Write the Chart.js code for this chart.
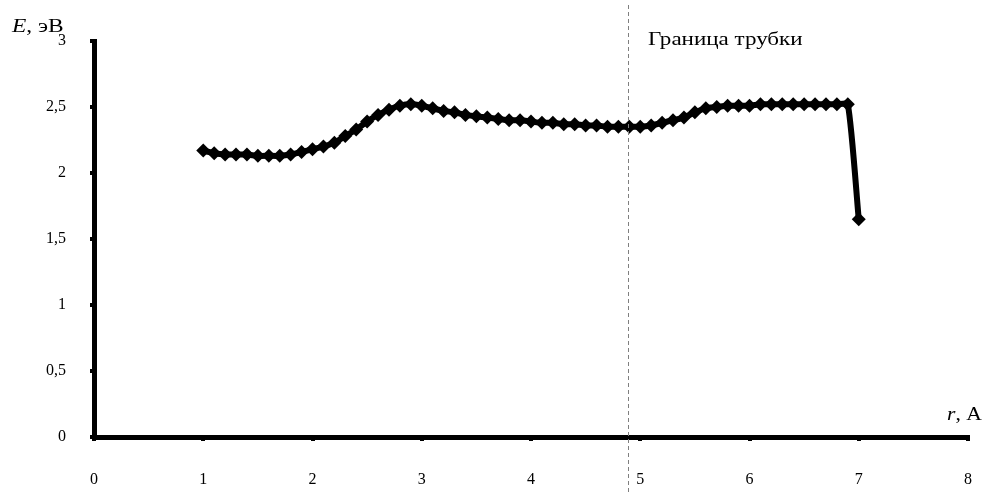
<!DOCTYPE html>
<html><head><meta charset="utf-8">
<script src="https://cdn.jsdelivr.net/npm/chart.js@4/dist/chart.umd.min.js"></script>
<style>html,body{margin:0;padding:0;background:#fff}#wrap{width:983px;height:493px}</style>
</head><body><div id="wrap"><canvas id="c" width="983" height="493"></canvas></div>
<script>
const rValues = [1.0,1.1,1.2,1.3,1.4,1.5,1.6,1.7,1.8,1.9,2.0,2.1,2.2,2.3,2.4,2.5,2.6,2.7,2.8,2.9,3.0,3.1,3.2,3.3,3.4,3.5,3.6,3.7,3.8,3.9,4.0,4.1,4.2,4.3,4.4,4.5,4.6,4.7,4.8,4.9,5.0,5.1,5.2,5.3,5.4,5.5,5.6,5.7,5.8,5.9,6.0,6.1,6.2,6.3,6.4,6.5,6.6,6.7,6.8,6.9,7.0];
const eValues = [2.17,2.15,2.14,2.14,2.14,2.13,2.13,2.13,2.14,2.16,2.18,2.20,2.23,2.28,2.33,2.39,2.44,2.48,2.51,2.52,2.51,2.49,2.47,2.46,2.44,2.43,2.42,2.41,2.40,2.40,2.39,2.38,2.38,2.37,2.37,2.36,2.36,2.35,2.35,2.35,2.35,2.36,2.38,2.40,2.42,2.46,2.49,2.50,2.51,2.51,2.51,2.52,2.52,2.52,2.52,2.52,2.52,2.52,2.52,2.52,1.65];
const xTicks = [0,1,2,3,4,5,6,7,8];
const yTicks = [0,0.5,1,1.5,2,2.5,3];
const boundaryR = 4.89;
const boundaryLabel = 'Граница трубки';
const yTitle = ['E', ', эВ'];
const xTitle = ['r', ', A'];

const FONT = '"Liberation Serif", "Times New Roman", serif';

function stretchedText(ctx, parts, x, y, size, sx) {
  ctx.save();
  ctx.translate(x, y);
  ctx.scale(sx, 1);
  let cx = 0;
  parts.forEach(p => {
    ctx.font = (p.italic ? 'italic ' : '') + size + 'px ' + FONT;
    ctx.fillText(p.t, cx, 0);
    cx += ctx.measureText(p.t).width;
  });
  ctx.restore();
}

const overlay = {
  id: 'overlay',
  afterDraw(chart) {
    const ctx = chart.ctx;
    const xs = chart.scales.x;
    ctx.save();
    const bx = Math.round(xs.getPixelForValue(boundaryR)) + 0.5;
    ctx.strokeStyle = '#7f7f7f';
    ctx.lineWidth = 1;
    ctx.setLineDash([4, 3]);
    ctx.beginPath();
    ctx.moveTo(bx, 5);
    ctx.lineTo(bx, 493);
    ctx.stroke();
    ctx.setLineDash([]);
    ctx.fillStyle = '#000';
    ctx.textBaseline = 'alphabetic';
    ctx.textAlign = 'left';
    stretchedText(ctx, [{t: boundaryLabel}], 648, 45, 18, 1.28);
    stretchedText(ctx, [{t: yTitle[0], italic: true}, {t: yTitle[1]}], 12, 32, 18, 1.3);
    stretchedText(ctx, [{t: xTitle[0], italic: true}, {t: xTitle[1]}], 947, 420, 18, 1.2);
    ctx.restore();
  }
};

new Chart(document.getElementById('c'), {
  type: 'line',
  data: {
    datasets: [{
      data: rValues.map((r, i) => ({x: r, y: eValues[i]})),
      borderColor: '#000',
      backgroundColor: '#000',
      borderWidth: 6,
      pointStyle: 'rectRot',
      pointRadius: 7,
      pointBorderWidth: 0,
      tension: 0.2,
      clip: false
    }]
  },
  options: {
    responsive: false,
    animation: false,
    devicePixelRatio: 1,
    layout: {autoPadding: false, padding: {left: 0, right: 15, top: 41, bottom: 0}},
    plugins: {legend: {display: false}, tooltip: {enabled: false}},
    scales: {
      x: {
        type: 'linear', min: 0, max: 8,
        afterBuildTicks: s => { s.ticks = xTicks.map(v => ({value: v})); },
        afterFit: s => { s.height = 56; s.paddingLeft = 0; s.paddingRight = 0; },
        border: {display: true, color: '#000', width: 5},
        grid: {drawOnChartArea: false, drawTicks: true, tickLength: 4, color: '#000', lineWidth: 4},
        ticks: {color: '#000', font: {family: FONT, size: 16}, padding: 29, callback: v => String(v)}
      },
      y: {
        type: 'linear', min: 0, max: 3,
        afterBuildTicks: s => { s.ticks = yTicks.map(v => ({value: v})); },
        afterFit: s => { s.width = 94; s.paddingTop = 0; s.paddingBottom = 0; },
        border: {display: true, color: '#000', width: 5},
        grid: {drawOnChartArea: false, drawTicks: true, tickLength: 4, color: '#000', lineWidth: 4},
        ticks: {color: '#000', font: {family: FONT, size: 16}, padding: 24, callback: v => String(v).replace('.', ',')}
      }
    }
  },
  plugins: [overlay]
});
</script></body></html>
